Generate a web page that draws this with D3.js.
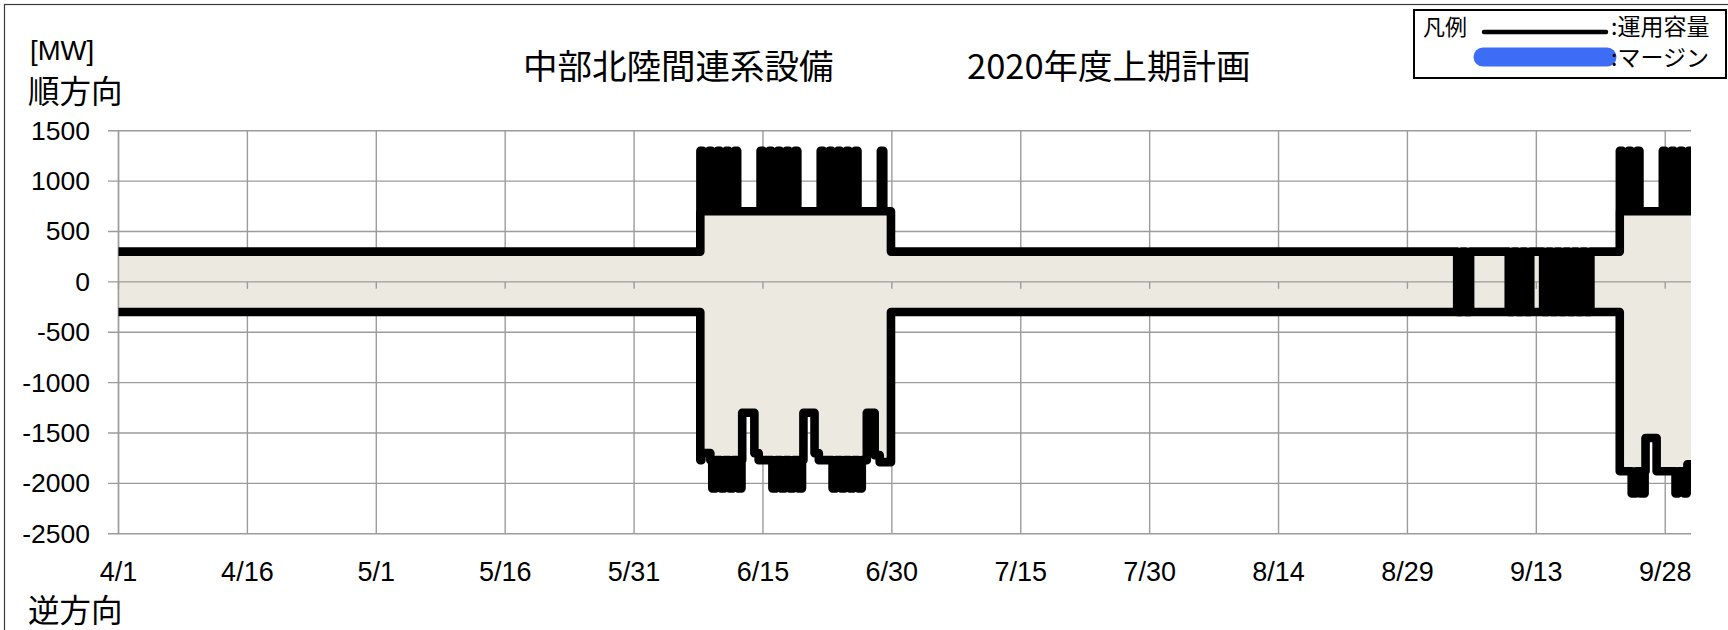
<!DOCTYPE html>
<html><head><meta charset="utf-8">
<script src="https://cdn.jsdelivr.net/npm/d3@7"></script>
<style>body{margin:0;background:#fff}svg{display:block}</style>
</head><body><svg id="c" width="1728" height="630"></svg>
<script>
// ---------- data ----------
const titleParts = ["中部北陸間連系設備", "2020年度上期計画"];
const unitLabel = "[MW]";
const fwdLabel = "順方向";
const revLabel = "逆方向";
const yTicks = [1500, 1000, 500, 0, -500, -1000, -1500, -2000, -2500];
const xTickLabels = ["4/1","4/16","5/1","5/16","5/31","6/15","6/30","7/15","7/30","8/14","8/29","9/13","9/28"];
const legendTitle = "凡例";
const legendLabels = [":運用容量", ":マージン"];

// 順方向 運用容量 [MW] : base level changes ["M/D h:mm", MW]
const fwdBase = [["4/1 0:00",300],["6/7 17:00",700],["6/29 21:30",300],["9/22 17:00",700]];
// daily cycles : [first day, last day, MW, from hour, to hour]
const fwdCycles = [
  ["6/7","6/11",1300,17.3,24],["6/14","6/18",1300,17.3,24],["6/21","6/25",1300,17.3,24],["6/28","6/28",1300,17.3,24],
  ["9/3","9/4",-300,19,31],["9/9","9/11",-300,19,31],["9/13","9/18",-300,19,31],
  ["9/22","9/24",1300,17.3,24],["9/27","9/30",1300,17.3,24]
];
// 逆方向 運用容量 [MW]
const revBase = [["4/1 0:00",-300],["6/7 17:00",-1770],["6/7 20:00",-1700],["6/8 21:00",-1770],
  ["6/12 14:00",-1300],["6/14 0:00",-1700],["6/14 12:00",-1770],
  ["6/19 17:00",-1300],["6/21 0:00",-1700],["6/21 12:00",-1770],
  ["6/27 2:00",-1300],["6/28 0:00",-1720],["6/28 14:00",-1790],["6/29 21:30",-300],
  ["9/22 17:00",-1880],["9/25 17:00",-1550],["9/27 0:00",-1880],["9/30 14:00",-1810]];
const revCycles = [
  ["6/9","6/12",-2050,2.4,12],["6/16","6/19",-2050,2.4,13],["6/23","6/26",-2050,2.4,12],
  ["9/24","9/25",-2100,2.4,14.4],["9/29","9/30",-2100,4.8,12]
];
const totalDays = 183; // 4/1 .. 9/30

// ---------- helpers ----------
const EPS = 1e-5;
const monthStart = {4:0,5:30,6:61,7:91,8:122,9:153,10:183};
function dayOf(s){
  const [md, hm] = s.split(" ");
  const [m, d] = md.split("/").map(Number);
  let h = 0;
  if (hm) { const [hh, mm] = hm.split(":").map(Number); h = hh + mm/60; }
  return monthStart[m] + d - 1 + h/24;
}
function buildSeries(base, cycles){
  const steps = base.map(([t,v]) => ({t: dayOf(t), v}));
  const pulses = [];
  cycles.forEach(([a,b,v,h0,h1]) => {
    for (let d = dayOf(a); d <= dayOf(b) + EPS; d++) pulses.push({t0: d + h0/24, t1: d + h1/24, v});
  });
  const valueAt = t => {
    for (const p of pulses) if (t >= p.t0 - EPS && t < p.t1 - EPS) return p.v;
    let v = steps[0].v;
    for (const s of steps) if (s.t <= t + EPS) v = s.v;
    return v;
  };
  const times = [];
  steps.forEach(s => times.push(s.t));
  pulses.forEach(p => { times.push(p.t0); times.push(p.t1); });
  return {valueAt, times};
}
const fwd = buildSeries(fwdBase, fwdCycles);
const rev = buildSeries(revBase, revCycles);
const rawTimes = [0, totalDays, ...fwd.times, ...rev.times].filter(t => t >= 0 && t <= totalDays).sort((a,b)=>a-b);
const allTimes = rawTimes.filter((t,i) => i === 0 || t - rawTimes[i-1] > EPS);
const pts = allTimes.map(t => ({t, up: fwd.valueAt(t), lo: rev.valueAt(t)}));

// ---------- layout ----------
const svg = d3.select("#c");
const P = {left:118.5, right:1691, top:130.7, bottom:533.7};
const x = d3.scaleLinear().domain([0, totalDays]).range([P.left, P.right]);
const y = d3.scaleLinear().domain([-2500, 1500]).range([P.bottom, P.top]);

svg.append("rect").attr("x",4.5).attr("y",4.5).attr("width",1740).attr("height",700)
  .attr("fill","none").attr("stroke","#3a3a3a").attr("stroke-width",1.2);

svg.append("defs").append("clipPath").attr("id","pc").append("rect")
  .attr("x",P.left).attr("y",P.top-10).attr("width",P.right-P.left).attr("height",P.bottom-P.top+20);

const gridC = "#9b9b9b";
const g = svg.append("g");
g.selectAll("line.h").data(yTicks).join("line").attr("class","h")
  .attr("x1",108).attr("x2",P.right).attr("y1",d=>y(d)).attr("y2",d=>y(d))
  .attr("stroke",gridC).attr("stroke-width",1.4);
g.selectAll("line.v").data(xTickLabels).join("line").attr("class","v")
  .attr("x1",(d,i)=>x(i*15)).attr("x2",(d,i)=>x(i*15)).attr("y1",P.top).attr("y2",P.bottom)
  .attr("stroke",gridC).attr("stroke-width",1.4);

const area = d3.area().curve(d3.curveStepAfter).x(d=>x(d.t)).y0(d=>y(d.lo)).y1(d=>y(d.up));
svg.append("path").datum(pts).attr("d",area).attr("fill","#eceae0").attr("clip-path","url(#pc)");

// zero axis with ticks
svg.append("line").attr("x1",P.left).attr("x2",P.right).attr("y1",y(0)).attr("y2",y(0))
  .attr("stroke",gridC).attr("stroke-width",1.4);
svg.selectAll("line.tk").data(xTickLabels).join("line").attr("class","tk")
  .attr("x1",(d,i)=>x(i*15)).attr("x2",(d,i)=>x(i*15)).attr("y1",y(0)).attr("y2",y(0)+7)
  .attr("stroke",gridC).attr("stroke-width",1.4);
svg.append("line").attr("x1",P.left).attr("x2",P.left).attr("y1",P.top).attr("y2",P.bottom)
  .attr("stroke",gridC).attr("stroke-width",1.4);

const lineUp = d3.line().curve(d3.curveStepAfter).x(d=>x(d.t)).y(d=>y(d.up));
const lineLo = d3.line().curve(d3.curveStepAfter).x(d=>x(d.t)).y(d=>y(d.lo));
[lineLo, lineUp].forEach(l => svg.append("path").datum(pts).attr("d",l)
  .attr("fill","none").attr("stroke","#000").attr("stroke-width",8.6)
  .attr("stroke-linejoin","round").attr("stroke-linecap","round").attr("clip-path","url(#pc)"));

// ---------- text ----------
const numFont = "'Liberation Sans', Arial, sans-serif";
const jpFont = "'Noto Sans CJK JP', sans-serif";
svg.selectAll("text.yl").data(yTicks).join("text").attr("class","yl")
  .attr("x",90).attr("y",d=>y(d)).attr("text-anchor","end").attr("dominant-baseline","central")
  .attr("font-family",numFont).attr("font-size",26.5).text(d=>d);
svg.selectAll("text.xl").data(xTickLabels).join("text").attr("class","xl")
  .attr("x",(d,i)=>x(i*15)).attr("y",572).attr("text-anchor","middle").attr("dominant-baseline","central")
  .attr("font-family",numFont).attr("font-size",27).text(d=>d);

svg.append("text").attr("x",30).attr("y",50).attr("dominant-baseline","central")
  .attr("font-family",numFont).attr("font-size",27.5).text(unitLabel);
svg.append("text").attr("x",28).attr("y",89).attr("dominant-baseline","central")
  .attr("font-family",jpFont).attr("font-size",31.5).text(fwdLabel);
svg.append("text").attr("x",28).attr("y",608).attr("dominant-baseline","central")
  .attr("font-family",jpFont).attr("font-size",31.5).text(revLabel);
svg.append("text").attr("x",523).attr("y",64).attr("dominant-baseline","central")
  .attr("font-family",jpFont).attr("font-size",34.5).text(titleParts[0]);
svg.append("text").attr("x",967).attr("y",64).attr("dominant-baseline","central")
  .attr("font-family",jpFont).attr("font-size",34.5).text(titleParts[1]);

// legend
const L = svg.append("g");
L.append("rect").attr("x",1414).attr("y",10).attr("width",312).attr("height",68)
  .attr("fill","#fff").attr("stroke","#000").attr("stroke-width",2);
L.append("text").attr("x",1423).attr("y",25).attr("dominant-baseline","central")
  .attr("font-family",jpFont).attr("font-size",22).text(legendTitle);
L.append("line").attr("x1",1484).attr("x2",1606).attr("y1",32).attr("y2",32)
  .attr("stroke","#000").attr("stroke-width",4.5).attr("stroke-linecap","round");
L.append("line").attr("x1",1483).attr("x2",1607).attr("y1",57).attr("y2",57)
  .attr("stroke","#3d6df6").attr("stroke-width",19).attr("stroke-linecap","round");
L.selectAll("text.ll").data(legendLabels).join("text").attr("class","ll")
  .attr("x",1611).attr("y",(d,i)=>i===0?25:56).attr("dominant-baseline","central")
  .attr("font-family",jpFont).attr("font-size",23).text(d=>d);
</script></body></html>
